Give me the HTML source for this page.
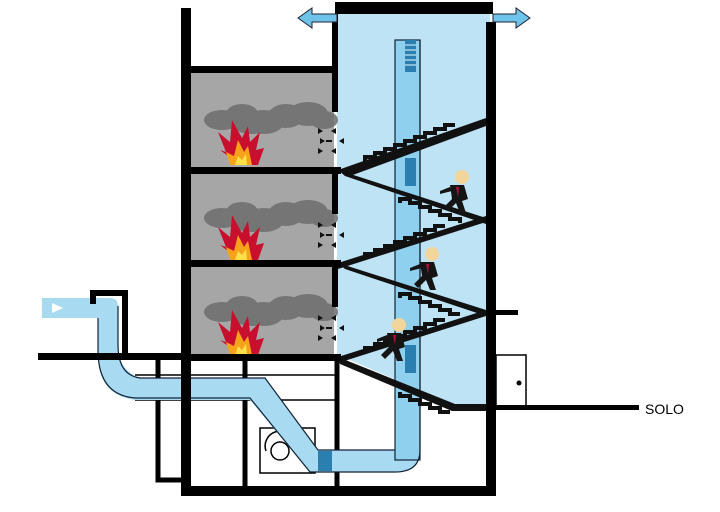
<!DOCTYPE html>
<html><head><style>body{margin:0;background:#fff}svg{display:block}</style></head><body>
<svg width="720" height="512" viewBox="0 0 720 512" xmlns="http://www.w3.org/2000/svg">
<defs>
<g id="fire">
<path d="M0 45 L-20 30 L-14 32 L-22 12 L-10 22 L-8 0 L2 18 L8 6 L10 22 L20 12 L16 30 L24 28 L18 45 Z" fill="#c8102e"/>
<path d="M-10 45 L-14 32 L-6 36 L-2 20 L4 32 L8 26 L12 45 Z" fill="#f7a21b"/>
<path d="M-5 45 L-2 36 L2 40 L6 34 L7 45 Z" fill="#ffe04a"/>
</g>
<g id="smoke" fill="#6d6d6d" opacity="0.85">
<ellipse cx="0" cy="0" rx="18" ry="10"/><ellipse cx="20" cy="-6" rx="16" ry="10"/><ellipse cx="42" cy="2" rx="20" ry="12"/><ellipse cx="64" cy="-4" rx="18" ry="12"/><ellipse cx="86" cy="-6" rx="20" ry="12"/><ellipse cx="102" cy="0" rx="14" ry="9"/><ellipse cx="30" cy="6" rx="18" ry="8"/>
</g>
<g id="vent" fill="#111">
<path d="M-12 -10 l5 3 l-5 3z M-10 0 l5 3 l-5 3z M-12 10 l5 3 l-5 3z"/>
<path d="M6 -10 l-5 3 l5 3z M14 0 l-5 3 l5 3z M6 10 l-5 3 l5 3z"/>
<rect x="-4" y="2" width="6" height="2"/>
</g>
<g id="man">
<circle cx="14" cy="-8" r="7" fill="#f2d59b"/>
<path d="M2 0 L16 0 L20 14 L14 16 L18 28 L12 28 L8 18 L0 26 L-4 22 L4 14 Z" fill="#151515"/>
<path d="M8 2 L11 2 L10 12 Z" fill="#b0103a"/>
<path d="M2 2 L-8 6 L-8 9 L4 6Z" fill="#151515"/>
</g>
</defs>
<path d="M337 10 H490 V405 H455 L345 358 H337 Z" fill="#bde3f4"/>
<rect x="190" y="72" width="144" height="97" fill="#a6a6a6"/>
<rect x="190" y="174" width="144" height="88" fill="#a6a6a6"/>
<rect x="190" y="267" width="144" height="88" fill="#a6a6a6"/>
<use href="#smoke" x="222" y="120"/><use href="#fire" x="240" y="120"/>
<use href="#smoke" x="222" y="218"/><use href="#fire" x="240" y="215"/>
<use href="#smoke" x="222" y="312"/><use href="#fire" x="240" y="310"/>
<use href="#vent" x="330" y="138"/><use href="#vent" x="330" y="232"/><use href="#vent" x="330" y="325"/>
<g stroke="#000" fill="none">
<path d="M158 360 V480 H185" stroke-width="5"/>
<path d="M245 360 V488" stroke-width="5"/>
<path d="M337 358 V488" stroke-width="5"/>
<path d="M135 375 H337 M135 400 H337" stroke-width="1.5"/>
<rect x="260" y="428" width="55" height="45" stroke-width="1.5"/>
<circle cx="280" cy="451" r="9" stroke-width="1.5"/>
<path d="M266 451 a14 14 0 0 1 28 -10" stroke-width="1.5"/>
<rect x="496" y="355" width="30" height="53" stroke-width="1.5"/>
</g>
<circle cx="519" cy="383" r="2.5" fill="#000"/>
<g fill="#a8daf2" stroke="none">
<path d="M42 298 H110 Q118 298 118 306 V345 Q118 370 140 378 H265 L318 450 H330 V472 H310 L250 400 H135 Q98 395 98 355 V318 H42 Z"/>
<path d="M320 450 H395 V472 H320Z"/>
<path d="M395 472 Q420 472 420 450 L395 450Z"/>
</g>
<rect x="395" y="40" width="25" height="420" fill="#8fd0ee" stroke="#123" stroke-width="1.2"/>
<path d="M98 318 V350 Q98 395 135 398 H250 L310 472 H395 Q420 472 420 450 V40 M118 306 V345 Q118 375 140 378 H265 L318 450 H395" fill="none" stroke="#123" stroke-width="1.2"/>
<rect x="405" y="40" width="11" height="32" fill="#2a7fb0"/>
<g stroke="#bde3f4" stroke-width="1.2"><path d="M405 45 H416 M405 50 H416 M405 55 H416 M405 60 H416 M405 65 H416"/></g>
<rect x="405" y="158" width="11" height="28" fill="#2a7fb0"/>
<rect x="405" y="345" width="11" height="28" fill="#2a7fb0"/>
<rect x="318" y="451" width="14" height="20" fill="#2a7fb0"/>
<path d="M52 303 l11 5 l-11 5 z" fill="#fff"/>
<g fill="#111">
<path d="M338 170 L486 118 V126 L350 176 Z"/>
<path d="M338 170 L486 218 V224 L345 176 Z"/>
<path d="M486 216 L338 263 V269 L486 222 Z"/>
<path d="M338 263 L486 310 V316 L345 269 Z"/>
<path d="M486 310 L338 357 V363 L486 316 Z"/>
<path d="M338 357 L455 404 H486 V411 H452 L340 364 Z"/>
</g>
<g stroke="#111" stroke-width="4" fill="none">
<path d="M365 165 v-8 h10 v-4 h10 v-4 h10 v-4 h10 v-4 h10 v-4 h10 v-4 h10 v-4 h10 v-4 h10"/>
<path d="M400 203 v-4 h10 v4 h10 v4 h10 v4 h10 v4 h10 v4 h10 v4"/>
<path d="M365 258 v-4 h10 v-4 h10 v-4 h10 v-4 h10 v-4 h10 v-4 h10 v-4 h10 v-4 h10"/>
<path d="M400 298 v-4 h10 v4 h10 v4 h10 v4 h10 v4 h10 v4 h10"/>
<path d="M365 352 v-4 h10 v-4 h10 v-4 h10 v-4 h10 v-4 h10 v-4 h10 v-4 h10 v-4 h10"/>
<path d="M400 392 v4 h10 v4 h10 v4 h10 v4 h10 v4 h10"/>
</g>
<use href="#man" x="448" y="185"/>
<use href="#man" x="418" y="262"/>
<use href="#man" x="385" y="333"/>
<g fill="#000">
<rect x="181" y="8" width="10" height="488"/>
<rect x="181" y="66" width="156" height="7"/>
<rect x="181" y="167" width="160" height="7"/>
<rect x="181" y="260" width="160" height="7"/>
<rect x="181" y="354" width="160" height="7"/>
<rect x="335" y="2" width="158" height="12"/>
<rect x="332" y="14" width="6" height="98"/>
<rect x="332" y="174" width="6" height="40"/>
<rect x="332" y="267" width="6" height="40"/>
<rect x="486" y="22" width="10" height="474"/>
<rect x="181" y="486" width="315" height="10"/>
<rect x="38" y="353" width="145" height="7"/>
<rect x="90" y="290" width="38" height="6"/>
<rect x="90" y="290" width="6" height="14"/>
<rect x="122" y="290" width="6" height="65"/>
<rect x="490" y="310" width="28" height="5"/>
<rect x="496" y="405" width="143" height="5"/>
</g>
<path d="M337 14 H312 V8 L298 18 L312 28 V22 H337Z" fill="#6ec3ea" stroke="#223" stroke-width="1"/>
<path d="M493 14 H516 V8 L530 18 L516 28 V22 H493Z" fill="#6ec3ea" stroke="#223" stroke-width="1"/>
<text x="645" y="414" font-family="Liberation Sans, sans-serif" font-size="14" fill="#000">SOLO</text>
</svg>
</body></html>
